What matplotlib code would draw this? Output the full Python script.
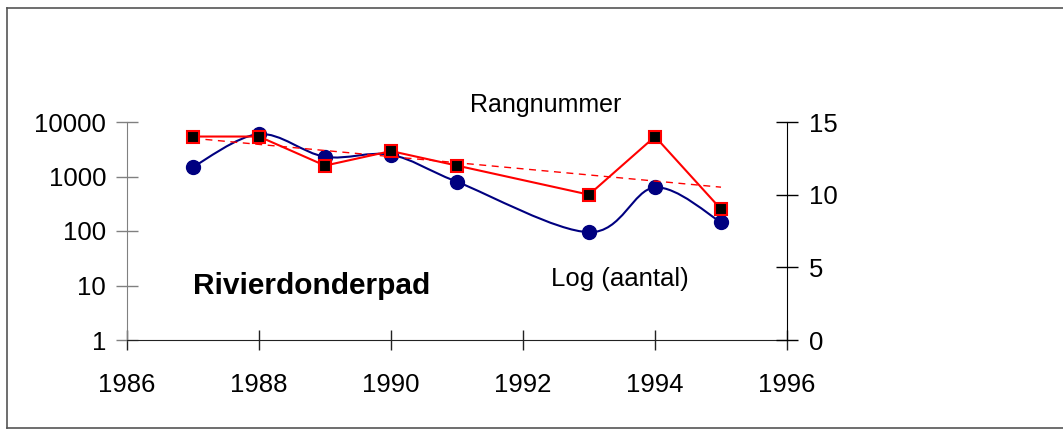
import matplotlib

matplotlib.use("Agg")
import matplotlib.pyplot as plt
import numpy as np
from matplotlib.lines import Line2D
from matplotlib.path import Path
from matplotlib.patches import PathPatch

plt.rcParams["font.family"] = ["Liberation Sans", "DejaVu Sans"]

years = [1987, 1988, 1989, 1990, 1991, 1993, 1994, 1995]
aantal = [1500, 6000, 2300, 2500, 800, 95, 630, 145]
rangnummer = [14, 14, 12, 13, 12, 10, 14, 9]

left_ticks = [1, 10, 100, 1000, 10000]
right_ticks = [0, 5, 10, 15]
x_ticks = [1986, 1988, 1990, 1992, 1994, 1996]

W, H = 1063, 429
fig = plt.figure(figsize=(W / 100, H / 100), dpi=100)

# outer frame of the chart object
for xs, ys in [((6.5, 1063), (421.5, 421.5)), ((6.5, 6.5), (421.5, 1.5)), ((6.5, 1063), (1.5, 1.5))]:
    fig.add_artist(Line2D([x / W for x in xs], [y / H for y in ys], color="#555555", lw=1.2))

ax = fig.add_axes([127 / W, (H - 340) / H, 660 / W, 218 / H])
ax.set_yscale("log")
ax.set_xlim(1986, 1996)
ax.set_ylim(1, 10000)
ax.set_xticks(x_ticks)
ax.set_xticklabels([str(t) for t in x_ticks])
ax.set_yticks(left_ticks)
ax.set_yticklabels([str(t) for t in left_ticks])
ax.yaxis.set_minor_locator(matplotlib.ticker.NullLocator())
for s in ("top", "right"):
    ax.spines[s].set_visible(False)
ax.spines["left"].set_color("#808080")
ax.spines["bottom"].set_color("#222222")
ax.tick_params(axis="y", direction="inout", length=16, width=1, color="#808080", labelsize=18.5, pad=7)
ax.tick_params(axis="x", direction="inout", length=15, width=1, color="#222222", labelsize=18.5, pad=16)

# smoothed line (Excel style Bezier) in log space
lx = np.array(years, dtype=float)
ly = np.log10(aantal)
pts = np.column_stack([lx, ly])
verts = [pts[0]]
codes = [Path.MOVETO]
n = len(pts)
for i in range(n - 1):
    p0 = pts[i - 1] if i > 0 else pts[i]
    p1, p2 = pts[i], pts[i + 1]
    p3 = pts[i + 2] if i + 2 < n else pts[i + 1]
    c1 = p1 + (p2 - p0) / 6
    c2 = p2 - (p3 - p1) / 6
    verts += [c1, c2, p2]
    codes += [Path.CURVE4] * 3
verts = np.array(verts)
verts[:, 1] = 10 ** verts[:, 1]
ax.add_patch(PathPatch(Path(verts, codes), facecolor="none", edgecolor="#000080", lw=1.5, zorder=3))
ax.plot(years, aantal, ls="none", marker="o", ms=10, color="#000080", zorder=4)

ax2 = ax.twinx()
ax2.set_ylim(0, 15)
ax2.set_yticks(right_ticks)
for s in ("top", "left", "bottom"):
    ax2.spines[s].set_visible(False)
ax2.spines["right"].set_color("#000000")
ax2.tick_params(axis="y", direction="inout", length=16, width=1, labelsize=18.5, pad=8)

coef = np.polyfit(years, rangnummer, 1)
trend_x = np.array([years[0], years[-1]])
ax2.plot(trend_x, np.polyval(coef, trend_x), color="#FF0000", lw=1, ls=(0, (5, 4)), zorder=2)
ax2.plot(years, rangnummer, color="#FF0000", lw=1.5, marker="s", ms=9,
         mfc="black", mec="#FF0000", mew=1.5, zorder=5)

fig.text(546 / W, 1 - 105 / H, "Rangnummer", fontsize=18, ha="center", va="center")
fig.text(620 / W, 1 - 279 / H, "Log (aantal)", fontsize=18.5, ha="center", va="center")
fig.text(193 / W, 1 - 286 / H, "Rivierdonderpad", fontsize=21.5, fontweight="bold", ha="left", va="center")

fig.savefig("out.png", dpi=100)
